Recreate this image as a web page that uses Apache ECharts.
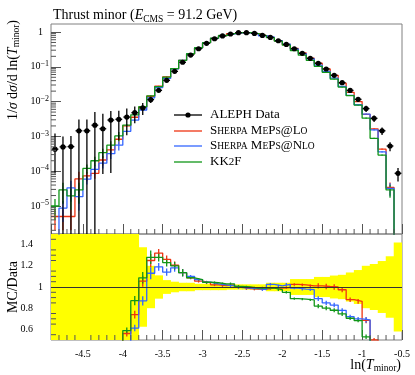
<!DOCTYPE html>
<html><head><meta charset="utf-8">
<script src="https://cdn.jsdelivr.net/npm/echarts@6/dist/echarts.min.js"></script>
<style>html,body{margin:0;padding:0;background:#fff}#c{width:415px;height:375px}</style>
</head><body><div id="c"></div>
<script>
// ---- bins (centres of ln(T_minor) bins, width 0.1) ----
const binCenters = [-4.85,-4.75,-4.65,-4.55,-4.45,-4.35,-4.25,-4.15,-4.05,-3.95,-3.85,-3.75,-3.65,-3.55,-3.45,-3.35,-3.25,-3.15,-3.05,-2.95,-2.85,-2.75,-2.65,-2.55,-2.45,-2.35,-2.25,-2.15,-2.05,-1.95,-1.85,-1.75,-1.65,-1.55,-1.45,-1.35,-1.25,-1.15,-1.05,-0.95,-0.85,-0.75,-0.65,-0.55];
// ---- ALEPH data ----
const dataVals = [4.3e-4,5.0e-4,5.1e-4,1.45e-3,1.45e-3,2.1e-3,1.66e-3,2.95e-3,3.1e-3,3.6e-3,4.8e-3,6.6e-3,1.14e-2,2.11e-2,4.08e-2,0.074,0.135,0.218,0.33,0.473,0.64,0.77,0.877,0.955,0.955,0.91,0.80,0.70,0.56,0.44,0.33,0.244,0.175,0.126,0.0865,0.057,0.035,0.021,0.0116,0.0063,0.0033,1.45e-3,5.3e-4,8.7e-5];
const dataErrUp   = [1.8,1.0,1.0,1.1,1.1,1.4,1.7,0.83,0.75,0.75,0.5,0.375,0.2,0.11,0.065,0.05,0.04,0.04,0.03,0.03,0.03,0.03,0.025,0.025,0.025,0.025,0.025,0.04,0.04,0.04,0.075,0.075,0.075,0.095,0.095,0.108,0.115,0.137,0.16,0.2,0.217,0.245,0.29,0.42];
const dataErrDown = [0.8,1.0,1.0,1.0,1.0,1.0,0.95,0.97,0.75,0.7,0.5,0.375,0.2,0.11,0.065,0.05,0.04,0.04,0.03,0.03,0.03,0.03,0.025,0.025,0.025,0.025,0.025,0.04,0.04,0.04,0.075,0.075,0.075,0.095,0.095,0.108,0.115,0.137,0.16,0.2,0.217,0.245,0.29,0.42];
// ---- MC predictions ----
const mcLO   = [5e-6,5e-6,5e-6,6.0e-5,7.3e-5,8.7e-5,2.1e-4,4.1e-4,8.3e-4,2.02e-3,3.55e-3,6.96e-3,1.425e-2,2.785e-2,5.14e-2,0.0892,0.1532,0.237,0.348,0.492,0.653,0.780,0.8945,0.955,0.941,0.892,0.784,0.693,0.554,0.438,0.338,0.249,0.177,0.1273,0.0869,0.057,0.0341,0.01848,0.01003,0.00432,0.00165,4.3e-4,3.4e-5,0];
const mcNLO  = [0,8.7e-6,3.3e-5,1.85e-5,5.9e-5,1.13e-4,1.7e-4,3.2e-4,5.6e-4,1.4e-3,2.94e-3,5.74e-3,1.288e-2,2.511e-2,4.65e-2,0.0873,0.1532,0.2398,0.3531,0.4943,0.6592,0.7854,0.8858,0.9502,0.9455,0.8964,0.780,0.7175,0.5656,0.451,0.3267,0.2391,0.1706,0.1121,0.0735,0.0473,0.0273,0.01512,0.00812,0.00435,0.00155,3.6e-4,3.2e-5,0];
const mcKK2F = [1.0e-5,2.9e-5,1.95e-5,2.9e-5,1.2e-4,2.0e-4,3.4e-4,5.6e-4,1.03e-3,2.12e-3,4.18e-3,7.17e-3,1.459e-2,2.70e-2,5.02e-2,0.0888,0.1532,0.237,0.3531,0.4943,0.6656,0.7931,0.9033,0.9607,0.955,0.9009,0.792,0.693,0.546,0.418,0.2937,0.2159,0.1537,0.1033,0.0692,0.0445,0.0261,0.01481,0.00793,0.00334,8.8e-4,2.9e-4,2.9e-5,0];
const mcRelErr = [0.6,0.6,0.6,0.6,0.3,0.3,0.3,0.3,0.3,0.05,0.05,0.05,0.05,0.03,0.03,0.03,0.03,0.012,0.012,0.012,0.012,0.012,0.012,0.012,0.012,0.012,0.012,0.012,0.012,0.012,0.012,0.012,0.012,0.025,0.025,0.025,0.025,0.025,0.025,0.04,0.04,0.04,0.4,0];

const seriesDefs = [
  {name:'Sherpa MEPS@LO',  vals: mcLO,   color:'#EE3311'},
  {name:'Sherpa MEPS@NLO', vals: mcNLO,  color:'#3366FF'},
  {name:'KK2F',            vals: mcKK2F, color:'#109618'}
];

const HALF = 0.05, X_MIN = -4.9, X_MAX = -0.5;
const Y_MIN = 1.57e-6, Y_MAX = 1.698, R_MIN = 0.5, R_MAX = 1.5;
const FLOOR = 1e-12;
const FONT = 'Liberation Serif';
const TICK = '#555';

const chart = echarts.init(document.getElementById('c'), null, {renderer:'canvas'});

function histPts(vals, floorV) {
  const pts = vals.map((v,i)=>[binCenters[i]-HALF, v>0?v:floorV]);
  const n = vals.length-1;
  pts.push([binCenters[n]+HALF, vals[n]>0?vals[n]:floorV]);
  return pts;
}
const ratioOf = vals => vals.map((v,i)=>v/dataVals[i]);

function clampY(cs, y){ return Math.max(cs.y, Math.min(cs.y+cs.height, y)); }

function errRender(color, isLog) {
  return function(params, api) {
    const x = api.value(0), v = api.value(1), e = api.value(2);
    if (!(v>0) || !(e>0)) return null;
    const cs = params.coordSys;
    const px = api.coord([x, v])[0];
    const lo = v*(1-e), hi = v*(1+e);
    const y1 = clampY(cs, api.coord([x, hi])[1]);
    const y2 = (isLog && lo<=0) ? cs.y+cs.height : clampY(cs, api.coord([x, lo])[1]);
    if (y2 <= y1) return null;
    return {type:'line', shape:{x1:px,y1:y1,x2:px,y2:y2}, style:{stroke:color, lineWidth:1.3}};
  };
}

const series = [];
// ratio band
series.push({
  type:'custom', xAxisIndex:1, yAxisIndex:1, z:1, clip:true,
  data: binCenters.map((x,i)=>[x, 1-dataErrDown[i], 1+dataErrUp[i]]),
  encode:{x:0,y:1},
  renderItem(params, api){
    const cs = params.coordSys;
    const x = api.value(0), lo = api.value(1), hi = api.value(2);
    const x0 = api.coord([x-HALF,1])[0], x1 = api.coord([x+HALF,1])[0];
    const y0 = clampY(cs, api.coord([x,hi])[1]), y1 = clampY(cs, api.coord([x,lo])[1]);
    return {type:'rect', shape:{x:x0-0.3,y:y0,width:x1-x0+0.6,height:y1-y0}, style:{fill:'#ffff00'}};
  },
  markLine:{silent:true, symbol:['none','none'], label:{show:false}, animation:false,
    lineStyle:{color:'#333', width:1, type:'solid'}, data:[{yAxis:1}]}
});
seriesDefs.forEach(s=>{
  series.push({type:'line', name:s.name, xAxisIndex:0, yAxisIndex:0, data:histPts(s.vals, FLOOR), step:'end',
    symbol:'none', showSymbol:false, clip:true, z:3, lineStyle:{color:s.color, width:1.3}, itemStyle:{color:s.color}});
  series.push({type:'custom', xAxisIndex:0, yAxisIndex:0, z:3, clip:true,
    data: binCenters.map((x,i)=>[x, s.vals[i], mcRelErr[i]]), encode:{x:0,y:1}, renderItem: errRender(s.color, true)});
  const r = ratioOf(s.vals);
  series.push({type:'line', xAxisIndex:1, yAxisIndex:1, data:histPts(r, 0), step:'end',
    symbol:'none', showSymbol:false, clip:true, z:3, lineStyle:{color:s.color, width:1.3}});
  series.push({type:'custom', xAxisIndex:1, yAxisIndex:1, z:3, clip:true,
    data: binCenters.map((x,i)=>[x, r[i], mcRelErr[i]]), encode:{x:0,y:1}, renderItem: errRender(s.color, false)});
});
// data points
series.push({
  type:'custom', name:'ALEPH Data', xAxisIndex:0, yAxisIndex:0, z:5, clip:true,
  data: binCenters.map((x,i)=>[x, dataVals[i], dataVals[i]*(1-dataErrDown[i]), dataVals[i]*(1+dataErrUp[i])]),
  encode:{x:0,y:1},
  renderItem(params, api){
    const cs = params.coordSys;
    const x = api.value(0), v = api.value(1), lo = api.value(2), hi = api.value(3);
    const p = api.coord([x,v]);
    const top = clampY(cs, api.coord([x,hi])[1]);
    const bot = lo > 0 ? clampY(cs, api.coord([x,lo])[1]) : cs.y+cs.height;
    const xl = api.coord([x-HALF*0.85,v])[0], xr = api.coord([x+HALF*0.85,v])[0];
    return {type:'group', children:[
      {type:'line', shape:{x1:p[0],y1:top,x2:p[0],y2:bot}, style:{stroke:'#000', lineWidth:1.3}},
      {type:'line', shape:{x1:xl,y1:p[1],x2:xr,y2:p[1]}, style:{stroke:'#000', lineWidth:1.3}},
      {type:'circle', shape:{cx:p[0],cy:p[1],r:2.6}, style:{fill:'#000'}}
    ]};
  }
});

const axisCommonX = {
  type:'value', min:X_MIN, max:X_MAX, splitNumber:9,
  axisLine:{show:false}, splitLine:{show:false},
  axisTick:{show:true, inside:true, length:10, lineStyle:{color:TICK}},
};

const tRich = {
  n:{fontFamily:FONT, fontSize:14, fontWeight:'normal', color:'#000', lineHeight:17},
  i:{fontFamily:FONT, fontSize:14, fontWeight:'normal', fontStyle:'italic', color:'#000', lineHeight:17},
  s:{fontFamily:FONT, fontSize:9.5, fontWeight:'normal', color:'#000', verticalAlign:'bottom', lineHeight:11}
};

const option = {
  animation:false,
  backgroundColor:'#fff',
  title:{
    left:48, top:2,
    text:'{n|Thrust minor (}{i|E}{s|CMS}{n| = 91.2 GeV)}',
    textStyle:{fontWeight:'normal', rich:tRich}
  },
  grid:[
    {left:51, top:24, width:351, height:210, show:true, borderColor:'#808080', borderWidth:1, backgroundColor:'transparent'},
    {left:51, top:234, width:351, height:106, show:true, borderColor:'#808080', borderWidth:1, backgroundColor:'transparent'}
  ],
  xAxis:[
    Object.assign({gridIndex:0, axisLabel:{show:false}}, axisCommonX),
    Object.assign({gridIndex:1, axisLabel:{show:true, showMinLabel:false, margin:9,
      fontFamily:FONT, fontSize:10, color:'#000',
      formatter: v => String(v)}}, axisCommonX)
  ],
  yAxis:[
    {gridIndex:0, type:'log', logBase:10, min:Y_MIN, max:Y_MAX,
      axisLine:{show:false}, splitLine:{show:false},
      axisTick:{show:true, inside:true, length:10, lineStyle:{color:TICK}},
      axisLabel:{show:true, showMinLabel:false, showMaxLabel:false, margin:2,
        formatter: v => { const e = Math.round(Math.log10(v)); return e===0 ? '{one|1}' : '{b|10}{sup|\u2212'+(-e)+'}'; },
        rich:{
          one:{fontFamily:FONT, fontSize:10, color:'#000', padding:[0,6,0,0], lineHeight:14},
          b:{fontFamily:FONT, fontSize:10, color:'#000', lineHeight:14},
          sup:{fontFamily:FONT, fontSize:8, color:'#000', verticalAlign:'top', lineHeight:9}
        }}},
    {gridIndex:1, type:'value', min:R_MIN, max:R_MAX, splitNumber:5,
      axisLine:{show:false}, splitLine:{show:false},
      axisTick:{show:true, inside:true, length:10, lineStyle:{color:TICK}},
      axisLabel:{show:true, showMinLabel:false, showMaxLabel:false, margin:8,
        formatter: v => (Math.abs(v-1)<1e-9) ? '{one|1}' : '{o|'+(Math.round(v*10)/10)+'}',
        rich:{
          one:{fontFamily:FONT, fontSize:10, color:'#000'},
          o:{fontFamily:FONT, fontSize:10, color:'#000', padding:[0,10,0,0]}
        }}}
  ],
  series: series
};
chart.setOption(option);

// ---- decorations: minor ticks, legend, axis titles ----
const g = [];
const gx0 = chart.convertToPixel({xAxisIndex:0}, X_MIN);
function hline(x1,y1,x2,y2,color,w){ g.push({type:'line', silent:true, z:50, shape:{x1,y1,x2,y2}, style:{stroke:color, lineWidth:w||1}}); }
for (let k=-6;k<=0;k++) for (let m=2;m<=9;m++){
  const v = m*Math.pow(10,k);
  if (v>Y_MIN && v<Y_MAX){ const y = chart.convertToPixel({yAxisIndex:0}, v); hline(gx0, y, gx0+5, y, TICK); }
}
const mainBottom = chart.convertToPixel({yAxisIndex:0}, Y_MIN);
const ratioBottom = chart.convertToPixel({yAxisIndex:1}, R_MIN);
for (let t=-48;t<=-6;t++){
  if (t%5===0) continue;
  const x = chart.convertToPixel({xAxisIndex:0}, t/10);
  hline(x, mainBottom, x, mainBottom-5, TICK);
  hline(x, ratioBottom, x, ratioBottom-5, TICK);
}
for (let t=11;t<=29;t++){
  if (t%4===0) continue;
  const y = chart.convertToPixel({yAxisIndex:1}, t*0.05);
  hline(gx0, y, gx0+5, y, TICK);
}
// legend
const legRich = {
  n:{fontFamily:FONT, fontSize:13, color:'#000'},
  c:{fontFamily:FONT, fontSize:9.5, color:'#000'},
  d:{fontFamily:FONT, fontSize:11, color:'#000'}
};
const legend = [
  {y:115, text:'{n|ALEPH Data}', color:'#000', data:true},
  {y:131, text:'{n|S}{c|HERPA} {n|M}{c|E}{n|P}{c|S}{n|@L}{c|O}', color:seriesDefs[0].color},
  {y:146, text:'{n|S}{c|HERPA} {n|M}{c|E}{n|P}{c|S}{n|@N}{c|LO}', color:seriesDefs[1].color},
  {y:162, text:'{n|KK}{d|2}{n|F}', color:seriesDefs[2].color}
];
legend.forEach(l=>{
  hline(174, l.y, 202, l.y, l.color, 1.3);
  if (l.data) g.push({type:'circle', silent:true, z:50, shape:{cx:188, cy:l.y, r:2.6}, style:{fill:'#000'}});
  g.push({type:'text', silent:true, z:50, x:210, y:l.y, style:{text:l.text, rich:legRich, verticalAlign:'middle', align:'left'}});
});
// axis titles
g.push({type:'text', silent:true, z:50, x:401, y:365, style:{text:'{n|ln(}{i|T}{s|minor}{n|)}', rich:tRich, align:'right', verticalAlign:'middle'}});
g.push({type:'text', silent:true, z:50, x:13, y:20, rotation:Math.PI/2, style:{text:'{n|1/}{i|\u03c3} {n|d}{i|\u03c3}{n|/d ln(}{i|T}{s|minor}{n|)}', rich:tRich, align:'right', verticalAlign:'middle'}});
g.push({type:'text', silent:true, z:50, x:13, y:287, rotation:Math.PI/2, style:{text:'{n|MC/Data}', rich:tRich, align:'center', verticalAlign:'middle'}});
chart.setOption({graphic:g});
</script>
</body></html>
